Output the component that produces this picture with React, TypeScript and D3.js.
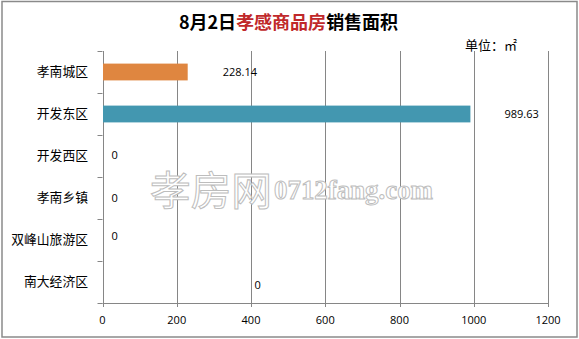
import React from "react";
import * as d3 from "d3";

const categories = ["孝南城区", "开发东区", "开发西区", "孝南乡镇", "双峰山旅游区", "南大经济区"];
const values = [228.14, 989.63, 0, 0, 0, 0];
const valueLabels = ["228.14", "989.63", "0", "0", "0", "0"];
const barColors = ["#DF8640", "#4397B0", "#4397B0", "#4397B0", "#4397B0", "#4397B0"];
const xTicks = [0, 200, 400, 600, 800, 1000, 1200];

// layout constants for data label anchors (in data units) and vertical nudges (px)
const LABEL_ANCHOR = [370, 1129, 33, 33, 33, 418];
const LABEL_DY = [0, 0, -1, 0, -4, 3];

const W = 579;
const H = 339;

export default function App() {
  const x = d3.scaleLinear().domain([0, 1200]).range([102.5, 548]);
  const y = d3
    .scaleBand<string>()
    .domain(categories)
    .range([51, 303])
    .paddingInner(0.6)
    .paddingOuter(0.3);
  const step = y.step();
  const top = 51;
  const bottom = 303;
  const grid = "#868686";
  const numFont = "'Open Sans', 'Noto Sans', sans-serif";
  const cjkFont = "'Noto Sans CJK SC', sans-serif";

  return (
    <svg
      width={W}
      height={H}
      style={{ position: "absolute", left: 0, top: 0, background: "#fff" }}
    >
      <rect x={2} y={1.5} width={575} height={335.5} fill="#fff" stroke="#8a8a8a" strokeWidth={1.5} />

      {/* gridlines */}
      {xTicks.map((t) => (
        <line
          key={"g" + t}
          x1={Math.round(x(t)) + 0.5}
          x2={Math.round(x(t)) + 0.5}
          y1={top}
          y2={bottom + 4}
          stroke={grid}
          strokeWidth={1}
        />
      ))}
      {/* x axis */}
      <line x1={x(0)} x2={x(1200)} y1={bottom + 0.5} y2={bottom + 0.5} stroke={grid} />
      {/* y ticks */}
      {d3.range(categories.length + 1).map((i) => (
        <line
          key={"yt" + i}
          x1={x(0) - 5}
          x2={x(0)}
          y1={Math.round(top + i * step) + 0.5}
          y2={Math.round(top + i * step) + 0.5}
          stroke={grid}
        />
      ))}

      {/* bars */}
      {categories.map((c, i) =>
        values[i] > 0 ? (
          <rect
            key={"b" + c}
            x={x(0) + 0.5}
            y={y(c)!}
            width={x(values[i]) - x(0)}
            height={y.bandwidth()}
            fill={barColors[i]}
          />
        ) : null
      )}

      {/* category labels */}
      {categories.map((c) => (
        <text
          key={"c" + c}
          x={88}
          y={y(c)! + y.bandwidth() / 2}
          dy="0.35em"
          textAnchor="end"
          fontFamily={cjkFont}
          fontSize={12.8}
          fill="#000"
        >
          {c}
        </text>
      ))}

      {/* value labels */}
      {categories.map((c, i) => (
        <text
          key={"v" + c}
          x={x(LABEL_ANCHOR[i])}
          y={y(c)! + y.bandwidth() / 2 + LABEL_DY[i]}
          dy="0.35em"
          textAnchor="middle"
          fontFamily={numFont}
          fontSize={11}
          fill="#000"
        >
          {valueLabels[i]}
        </text>
      ))}

      {/* x tick labels */}
      {xTicks.map((t) => (
        <text
          key={"xl" + t}
          x={x(t)}
          y={320}
          dy="0.35em"
          textAnchor="middle"
          fontFamily={numFont}
          fontSize={11}
          fill="#000"
        >
          {t}
        </text>
      ))}

      {/* watermark */}
      <g stroke="#bdbdbd" strokeWidth={1} fill="#fff">
        <text x={150} y={205} fontFamily={cjkFont} fontSize={40} textLength={122} lengthAdjust="spacingAndGlyphs">
          孝房网
        </text>
        <text
          x={274}
          y={199}
          fontFamily="'Liberation Serif', serif"
          fontWeight="bold"
          fontSize={27}
          textLength={159}
          lengthAdjust="spacingAndGlyphs"
        >
          0712fang.com
        </text>
      </g>

      {/* title */}
      <text
        x={288.5}
        y={23}
        dy="0.35em"
        textAnchor="middle"
        fontFamily={cjkFont}
        fontWeight="bold"
        fontSize={18}
        fill="#000"
      >
        8月2日<tspan fill="#C0282A">孝感商品房</tspan>销售面积
      </text>
      <text x={465} y={45} dy="0.35em" fontFamily={cjkFont} fontSize={13} fill="#000">
        单位：㎡
      </text>
    </svg>
  );
}
